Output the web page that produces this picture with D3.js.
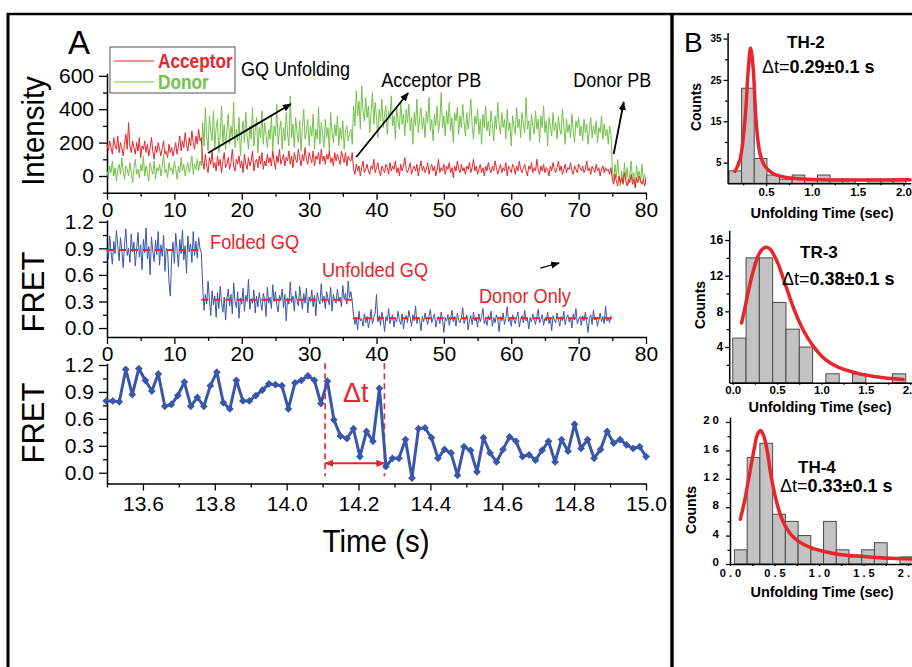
<!DOCTYPE html>
<html>
<head>
<meta charset="utf-8">
<script src="https://cdn.jsdelivr.net/npm/d3@7"></script>
<style>
  body { margin: 0; background: #fff; }
  svg text { font-family: "Liberation Sans", Arial, sans-serif; }
  svg .bold text, svg text.bold { font-weight: bold; }
</style>
</head>
<body>
<svg id="fig" width="912" height="667"></svg>
<script>
// ---- panel A: single-molecule traces, one frame every 0.2 s ----
const frameStep = 0.2;
const acceptor = [
  190,150,210,170,130,230,180,160,240,140, 200,170,120,190,250,160,320,180,140,210,
  170,130,200,150,230,110,180,160,210,140, 190,120,170,230,150,100,180,140,200,160,
  120,170,210,130,150,110,190,140,170,120, 160,200,130,180,240,150,210,170,260,190,
  150,230,180,270,200,160,240,190,280,210, 230,
  90,40,130,60,20,110,70,150,50,80, 30,120,60,100,20,90,140,50,70,110,
  40,80,160,60,30,100,70,120,50,90, 20,130,70,40,110,60,90,150,30,80,
  100,50,120,70,140,40,90,60,130,80, 110,60,150,90,40,120,80,160,70,100,
  130,60,110,90,150,70,120,50,140,100, 80,160,110,60,130,90,170,100,70,140,
  110,80,150,60,120,100,140,70,160,90, 120,70,130,100,150,80,110,60,140,90,
  130,100,70,150,110,80,140,60,120,100, 90,140,
  40,10,70,30,60,0,50,90,20,40, 70,30,10,60,40,100,20,50,80,30,
  0,60,40,20,70,50,10,80,30,60, 40,90,20,50,0,70,30,60,110,40,
  20,50,80,10,40,60,30,70,0,50, 90,30,60,20,40,80,10,50,70,30,
  60,0,40,100,20,50,30,70,10,60, 40,80,20,50,-10,60,30,90,40,20,
  70,30,50,10,60,40,80,20,50,100, 30,60,10,40,70,20,50,0,60,30,
  80,40,20,60,30,90,50,10,40,70, 20,50,30,80,0,60,40,20,70,50,
  10,60,30,90,40,20,50,70,30,0, 60,40,80,20,50,30,100,40,10,60,
  30,70,20,50,40,0,60,30,80,40, 20,50,90,30,60,10,40,70,20,50,
  40,80,30,10,60,40,20,70,50,30, 60,20,40,90,30,50,10,60,40,20,
  70,30,50,0,40,60,20,50,30,40, 10,50,
  -20,-50,10,-30,-60,0,-40,-10,-50,20, -30,-60,-20,-40,10,-50,-20,-70,-10,-40,
  0,-30,-50,-20,-60,-10
];
const donor = [
  30,-10,60,20,90,0,50,-30,40,70, 10,110,30,-20,60,40,0,80,20,-40,
  50,100,10,40,-10,70,30,120,0,60, 20,-30,80,40,10,90,-20,50,30,70,
  0,60,130,20,40,-10,80,30,50,10, 90,40,-20,60,20,110,30,70,0,50,
  80,20,60,120,10,70,40,100,30,90, 60,
  320,180,410,240,150,360,270,210,390,170, 290,340,140,250,420,200,310,160,280,370,
  190,300,230,440,170,280,210,350,120,260, 330,200,380,240,160,300,220,410,180,270,
  350,140,290,230,390,190,320,250,170,280, 220,360,150,300,240,430,190,270,330,160,
  290,210,380,250,180,480,230,310,170,350, 260,200,330,150,290,400,220,270,340,180,
  300,240,370,160,280,220,410,190,320,250, 170,340,230,290,150,380,260,200,310,240,
  360,180,290,220,330,160,270,300,210,250, 280,190,
  420,300,510,360,450,280,540,390,330,470, 350,420,260,380,500,310,440,350,230,400,
  330,460,290,370,420,250,390,340,480,300, 360,220,410,330,280,450,310,370,240,400,
  320,430,270,350,190,380,300,460,260,340, 410,280,350,230,390,320,470,270,340,210,
  370,300,420,260,330,500,290,360,240,390, 310,440,270,350,200,380,330,410,250,360,
  290,430,320,240,380,280,350,460,300,220, 360,310,400,250,340,190,370,290,420,270,
  330,240,390,300,210,360,280,440,310,250, 380,290,340,220,400,270,320,180,360,300,
  250,410,290,340,230,380,310,260,470,280, 330,210,370,300,250,390,280,340,200,360,
  290,420,260,330,180,350,300,240,380,270, 320,220,360,280,250,400,300,190,340,260,
  310,230,370,270,200,330,290,350,240,300, 210,340,260,310,190,280,350,230,300,250,
  330,200,290,260,360,220,310,240,280,190, 300,250,
  40,-30,70,-10,100,0,-60,30,-40,80, -20,50,-50,10,90,-30,20,-70,60,-10,
  30,-40,70,-20,10,-50
];
const fretTrace = [
  0.90,0.78,1.04,0.86,0.72,0.98,0.84,1.10,0.93,0.76, 1.02,0.88,0.68,0.95,1.12,0.82,0.90,0.74,1.06,0.86,
  0.97,0.70,0.89,1.08,0.80,0.94,0.66,1.00,0.85,1.13, 0.78,0.92,0.60,1.03,0.87,0.75,0.99,0.83,1.09,0.71,
  0.94,0.81,1.05,0.64,0.90,0.86,0.52,0.36,0.80,0.97, 0.73,1.07,0.88,0.69,1.00,0.84,1.11,0.77,0.93,0.62,
  1.04,0.86,0.95,0.74,1.09,0.82,0.98,0.79,1.02,0.90, 0.85,
  0.48,0.20,0.38,0.27,0.53,0.31,0.14,0.42,0.26,0.36, 0.12,0.40,0.22,0.47,0.29,0.18,0.35,0.09,0.33,0.44,
  0.25,0.38,0.16,0.51,0.30,0.23,0.41,0.11,0.34,0.27, 0.45,0.19,0.37,0.30,0.55,0.21,0.33,0.28,0.43,0.17,
  0.36,0.24,0.40,0.29,0.20,0.39,0.32,0.13,0.46,0.28, 0.35,0.22,0.49,0.30,0.41,0.26,0.18,0.37,0.31,0.44,
  0.23,0.38,0.08,0.34,0.27,0.52,0.29,0.36,0.19,0.42, 0.31,0.25,0.47,0.33,0.21,0.39,0.28,0.45,0.17,0.35,
  0.30,0.43,0.24,0.37,0.14,0.40,0.32,0.27,0.50,0.29, 0.36,0.22,0.41,0.33,0.26,0.46,0.19,0.38,0.31,0.28,
  0.44,0.30,0.35,0.24,0.48,0.32,0.39,0.27,0.53,0.34, 0.41,0.30,
  0.14,0.04,0.12,-0.02,0.19,0.08,0.11,0.02,0.16,0.06, 0.13,0.00,0.09,0.21,0.05,0.12,0.17,0.38,0.07,0.14,
  0.03,0.18,0.10,-0.04,0.13,0.08,0.22,0.05,0.11,0.15, 0.01,0.12,0.07,0.19,0.09,0.04,0.16,-0.01,0.10,0.14,
  0.06,0.20,0.11,0.02,0.15,0.08,0.25,0.05,0.12,0.09, -0.03,0.13,0.07,0.17,0.10,0.04,0.14,0.21,0.06,0.11,
  0.16,0.01,0.09,0.13,0.05,0.18,0.10,-0.05,0.12,0.08, 0.15,0.03,0.11,0.20,0.07,0.13,0.02,0.17,0.09,0.06,
  0.12,0.23,0.05,0.10,0.15,-0.02,0.09,0.14,0.04,0.18, 0.08,0.11,0.01,0.16,0.07,0.13,0.22,0.05,0.10,0.03,
  0.14,0.09,0.19,0.02,0.12,0.06,0.15,0.10,-0.04,0.13, 0.08,0.17,0.04,0.11,0.24,0.07,0.12,0.02,0.15,0.09,
  0.05,0.13,0.18,0.01,0.10,0.14,0.06,0.20,0.08,0.11, -0.01,0.12,0.07,0.16,0.09,0.04,0.13,0.21,0.06,0.10,
  0.15,0.03,0.11,0.08,0.18,0.05,0.12,-0.03,0.14,0.09, 0.06,0.17,0.10,0.02,0.13,0.08,0.19,0.04,0.11,0.15,
  0.07,0.12,0.00,0.16,0.09,0.22,0.05,0.10,0.13,0.03, 0.14,0.08,0.18,0.06,-0.05,0.11,0.15,0.04,0.20,0.09,
  0.12,0.02,0.10,0.17,0.07,0.13,0.05,0.25,0.08,0.11, 0.06,0.14
];
const levelStart = [0, 14, 36.5];
const levelEnd = [14, 36.5, 75];
const levelValue = [0.88, 0.32, 0.11];

// zoomed FRET trace around the unfolding event (one frame every 18.1 ms)
const zoomStart = 13.498;
const zoomStep = 0.0181;
const zoomFret = [
  0.80,0.80,0.79,1.15,0.87,1.16,1.03,0.91,1.10,0.74,0.76,0.86,1.01,0.74,0.84,0.74,0.97,1.12,0.78,0.71,
  1.03,0.80,0.80,0.86,0.92,0.99,0.98,0.97,0.71,1.00,1.03,1.08,1.03,0.77,1.02,0.59,0.41,0.38,0.49,0.18,
  0.46,0.35,0.94,0.07,0.16,0.16,0.37,-0.06,0.49,0.50,0.39,0.16,0.26,0.22,-0.03,0.29,0.25,0.01,0.39,0.22,
  0.12,0.26,0.40,0.35,0.18,0.20,0.14,0.25,0.35,0.12,0.37,0.24,0.54,0.27,0.37,0.16,0.26,0.46,0.33,0.37,
  0.31,0.27,0.29,0.18
];
const deltaT = [14.107, 14.272];

// axis ticks, panel A
const tTicks = [0, 10, 20, 30, 40, 50, 60, 70, 80];
const tMinor = [5, 15, 25, 35, 45, 55, 65, 75];
const intTicks = [0, 200, 400, 600];
const intMinor = [-100, 100, 300, 500];
const fretTicks = [0, 0.3, 0.6, 0.9, 1.2];
const fretMinor = [0.15, 0.45, 0.75, 1.05];
const zTicks = [13.6, 13.8, 14.0, 14.2, 14.4, 14.6, 14.8, 15.0];
const zMinor = [13.5, 13.7, 13.9, 14.1, 14.3, 14.5, 14.7, 14.9];

// ---- panel B: unfolding time histograms ----
const th2Counts = [3, 23, 6, 2, 1, 2, 1, 2, 1, 1, 0, 1, 1, 1];
const th2Bin = [0.095, 0.138];
const th2FitT = [0.16, 0.215, 0.27, 0.306, 0.331, 0.36, 0.39, 0.433, 0.488, 0.58, 0.724, 0.943, 1.31, 1.7, 2.07];
const th2FitC = [2.85, 5.7, 15.4, 27.6, 32.7, 27.6, 15.4, 7.3, 4.1, 2.3, 1.4, 1.0, 0.8, 0.8, 0.85];

const tr3Counts = [5, 14, 14, 9, 6, 4, 0, 1, 0, 1, 0, 0, 1];
const tr3Bin = [0, 0.15];
const tr3FitT = [0.10, 0.15, 0.20, 0.25, 0.30, 0.35, 0.38, 0.42, 0.50, 0.60, 0.70, 0.80, 0.90, 1.00, 1.10, 1.20, 1.35, 1.50, 1.70, 1.92];
const tr3FitC = [6.7, 9.0, 11.3, 13.2, 14.5, 15.1, 15.2, 15.0, 13.6, 10.8, 8.0, 5.8, 4.2, 3.0, 2.2, 1.7, 1.2, 0.85, 0.55, 0.35];

const th4Counts = [2, 15, 17, 7, 6, 4, 2, 6, 2, 1, 2, 3, 0, 1];
const th4Bin = [0.05, 0.143];
const th4FitT = [0.116, 0.161, 0.217, 0.273, 0.31, 0.345, 0.38, 0.42, 0.46, 0.535, 0.61, 0.72, 0.87, 1.06, 1.25, 1.51, 1.81, 2.09];
const th4FitC = [6.3, 8.7, 12.5, 16.3, 18.3, 18.8, 18.0, 15.8, 12.5, 8.2, 5.6, 3.7, 2.5, 1.76, 1.3, 1.05, 0.8, 0.7];

const red = "#e8252b", green = "#72c247", blue = "#3a56ab";
const svg = d3.select("#fig");

svg.append("defs").append("marker")
  .attr("id", "head").attr("viewBox", "0 0 10 10").attr("refX", 9).attr("refY", 5)
  .attr("markerWidth", 9).attr("markerHeight", 9).attr("markerUnits", "userSpaceOnUse")
  .attr("orient", "auto-start-reverse")
  .append("path").attr("d", "M0,1 L10,5 L0,9 Z").attr("fill", "context-stroke");

// squeeze a text horizontally (the original uses a condensed face)
function squeeze(sel, k) {
  sel.each(function () {
    const w = this.getComputedTextLength();
    d3.select(this).attr("textLength", w * k).attr("lengthAdjust", "spacingAndGlyphs");
  });
  return sel;
}

function axis(gen, scale, major, minor, fmt, at, size, pad, cls) {
  const g = svg.append("g").attr("transform", at).attr("class", cls || "");
  g.call(gen(scale).tickValues(major).tickSizeInner(size[0]).tickSizeOuter(0).tickPadding(pad).tickFormat(fmt));
  svg.append("g").attr("transform", at)
    .call(gen(scale).tickValues(minor).tickSizeInner(size[1]).tickSizeOuter(0).tickFormat(""))
    .select(".domain").remove();
  svg.selectAll(".tick line").attr("stroke", "#000").attr("stroke-width", 1.3);
  svg.selectAll(".domain").attr("stroke", "#000").attr("stroke-width", 1.5);
  g.selectAll("text").attr("fill", "#000").attr("font-family", null);
  return g;
}

// ---------- panel A ----------
const xA = d3.scaleLinear().domain([0, 80]).range([107, 646]);
const yInt = d3.scaleLinear().domain([-100, 615]).range([192.7, 73.3]);
const yF1 = d3.scaleLinear().domain([-0.1, 1.22]).range([336.9, 220]);
const xZ = d3.scaleLinear().domain([13.5, 15.0]).range([107, 646]);
const yF2 = d3.scaleLinear().domain([-0.12, 1.22]).range([483.5, 363.2]);

const fmtA = d3.format("d");
const fmtF = d3.format(".1f");
const tickFs = 21;

// intensity
axis(d3.axisLeft, yInt, intTicks, intMinor, fmtA, "translate(107,0)", [8, 4], 5).selectAll("text").attr("font-size", tickFs);
axis(d3.axisBottom, xA, tTicks, tMinor, fmtA, "translate(0,192.7)", [7, 4], 2).selectAll("text").attr("font-size", tickFs);
const trace = d3.line().x((d, i) => xA(i * frameStep));
svg.append("path").datum(donor).attr("fill", "none").attr("stroke", green).attr("stroke-width", 1)
  .attr("d", trace.y(d => yInt(d)));
svg.append("path").datum(acceptor).attr("fill", "none").attr("stroke", red).attr("stroke-width", 1)
  .attr("d", trace.y(d => yInt(d)));

// arrows (data units)
const arrowsA = [[15.0, 138, 27.3, 431], [37.0, 114, 44.7, 497], [75.2, 132, 76.7, 443]];
svg.selectAll(".arA").data(arrowsA).join("line")
  .attr("x1", d => xA(d[0])).attr("y1", d => yInt(d[1]))
  .attr("x2", d => xA(d[2])).attr("y2", d => yInt(d[3]))
  .attr("stroke", "#000").attr("stroke-width", 1.8).attr("marker-end", "url(#head)");
const notesA = [["GQ Unfolding", 19.9, 599], ["Acceptor PB", 40.7, 533], ["Donor PB", 69.2, 533]];
squeeze(svg.selectAll(".ntA").data(notesA).join("text")
  .attr("x", d => xA(d[1])).attr("y", d => yInt(d[2])).attr("font-size", 20).text(d => d[0]), 0.9);

// legend
svg.append("rect").attr("x", 110).attr("y", 47).attr("width", 125).attr("height", 46)
  .attr("fill", "#fff").attr("stroke", "#555").attr("stroke-width", 1);
[["Acceptor", red, 61], ["Donor", green, 82]].forEach(([name, c, y]) => {
  svg.append("line").attr("x1", 114).attr("x2", 154).attr("y1", y).attr("y2", y).attr("stroke", c).attr("stroke-width", 1.2);
  squeeze(svg.append("text").attr("x", 158).attr("y", y + 7).attr("fill", c).attr("font-size", 21)
    .attr("font-weight", "bold").text(name), 0.82);
});
svg.append("text").attr("x", 68).attr("y", 54).attr("font-size", 33).text("A");
squeeze(svg.append("text").attr("transform", "translate(44,131) rotate(-90)").attr("text-anchor", "middle")
  .attr("font-size", 32).text("Intensity"), 0.92);

// FRET trace
axis(d3.axisLeft, yF1, fretTicks, fretMinor, fmtF, "translate(107,0)", [8, 4], 5).selectAll("text").attr("font-size", tickFs);
axis(d3.axisBottom, xA, tTicks, tMinor, fmtA, "translate(0,336.9)", [7, 4], 2).selectAll("text").attr("font-size", tickFs);
svg.append("path").datum(fretTrace).attr("fill", "none").attr("stroke", blue).attr("stroke-width", 1)
  .attr("d", d3.line().x((d, i) => xA(i * frameStep)).y(d => yF1(d)));
svg.selectAll(".lvl").data(levelValue).join("line")
  .attr("x1", (d, i) => xA(levelStart[i])).attr("x2", (d, i) => xA(levelEnd[i]))
  .attr("y1", d => yF1(d)).attr("y2", d => yF1(d))
  .attr("stroke", red).attr("stroke-width", 2).attr("stroke-dasharray", "7,5");
const notesF = [["Folded GQ", 15.3, 0.89], ["Unfolded GQ", 31.9, 0.575], ["Donor Only", 55.2, 0.28]];
squeeze(svg.selectAll(".ntF").data(notesF).join("text")
  .attr("x", d => xA(d[1])).attr("y", d => yF1(d[2])).attr("fill", red).attr("font-size", 20).text(d => d[0]), 0.91);
svg.append("line").attr("x1", xA(64.3)).attr("y1", yF1(0.677)).attr("x2", xA(67.1)).attr("y2", yF1(0.734))
  .attr("stroke", "#000").attr("stroke-width", 1.2).attr("marker-end", "url(#head)");
svg.append("text").attr("transform", "translate(44,292) rotate(-90)").attr("text-anchor", "middle")
  .attr("font-size", 31).text("FRET");

// zoomed FRET
axis(d3.axisLeft, yF2, fretTicks, fretMinor, fmtF, "translate(107,0)", [8, 4], 5).selectAll("text").attr("font-size", tickFs);
axis(d3.axisBottom, xZ, zTicks, zMinor, fmtF, "translate(0,483.5)", [7, 4], 6).selectAll("text").attr("font-size", tickFs);
svg.selectAll(".dt").data(deltaT).join("line")
  .attr("x1", d => xZ(d)).attr("x2", d => xZ(d)).attr("y1", yF2(1.22)).attr("y2", yF2(-0.04))
  .attr("stroke", red).attr("stroke-width", 1.6).attr("stroke-dasharray", "6,4");
svg.append("line").attr("x1", xZ(deltaT[0])).attr("x2", xZ(deltaT[1])).attr("y1", yF2(0.105)).attr("y2", yF2(0.105))
  .attr("stroke", red).attr("stroke-width", 2).attr("marker-start", "url(#head)").attr("marker-end", "url(#head)");
svg.append("text").attr("x", xZ(14.157)).attr("y", yF2(0.79)).attr("fill", red).attr("font-size", 27).text("Δt");
svg.append("path").datum(zoomFret).attr("fill", "none").attr("stroke", blue).attr("stroke-width", 3)
  .attr("stroke-linejoin", "round")
  .attr("d", d3.line().x((d, i) => xZ(zoomStart + i * zoomStep)).y(d => yF2(d)));
svg.selectAll(".dm").data(zoomFret).join("path")
  .attr("d", d3.symbol(d3.symbolSquare, 30))
  .attr("transform", (d, i) => `translate(${xZ(zoomStart + i * zoomStep)},${yF2(d)}) rotate(45)`)
  .attr("fill", blue);
svg.append("text").attr("transform", "translate(44,423) rotate(-90)").attr("text-anchor", "middle")
  .attr("font-size", 31).text("FRET");
squeeze(svg.append("text").attr("x", 376).attr("y", 552).attr("text-anchor", "middle").attr("font-size", 31).text("Time (s)"), 0.95);

// ---------- panel B ----------
function hist(o) {
  const x = d3.scaleLinear().domain(o.xd).range(o.xr);
  const y = d3.scaleLinear().domain(o.yd).range(o.yr);
  svg.selectAll(null).data(o.counts).join("rect")
    .attr("x", (d, i) => x(o.bin[0] + i * o.bin[1]))
    .attr("width", x(o.bin[1]) - x(0))
    .attr("y", d => y(d)).attr("height", d => y(0) - y(d))
    .attr("fill", "#c3c3c3").attr("stroke", "#4a4a4a").attr("stroke-width", 1);
  const gy = axis(d3.axisLeft, y, o.yt, o.ym, d3.format("d"), `translate(${o.xr[0]},0)`, [4, 2.5], o.ypad, "bold");
  const gx = axis(d3.axisBottom, x, o.xt, o.xm, d3.format(".1f"), `translate(0,${o.yr[0]})`, [o.xtick, 2], o.xpad, "bold");
  gy.selectAll("text").attr("font-size", o.yfs).attr("letter-spacing", o.ls).attr("dy", o.ydy);
  gx.selectAll("text").attr("font-size", o.xfs).attr("letter-spacing", o.ls).attr("dx", o.ls / 2);
  svg.append("path").datum(o.fitT)
    .attr("fill", "none").attr("stroke", red).attr("stroke-width", 3.5).attr("stroke-linecap", "round")
    .attr("d", d3.line().curve(d3.curveCatmullRom).x(d => x(d)).y((d, i) => y(o.fitC[i])));
  svg.append("text").attr("class", "bold").attr("x", o.title[1]).attr("y", o.title[2])
    .attr("font-size", 17).text(o.title[0]);
  const dt = svg.append("text").attr("x", o.dt[1]).attr("y", o.dt[2]).attr("font-size", 18);
  dt.append("tspan").text("Δt=");
  dt.append("tspan").attr("font-weight", "bold").text(o.dt[0]);
  svg.append("text").attr("class", "bold").attr("text-anchor", "middle")
    .attr("transform", `translate(${o.cy[0]},${o.cy[1]}) rotate(-90)`).attr("font-size", 14).text("Counts");
  svg.append("text").attr("class", "bold").attr("text-anchor", "middle")
    .attr("x", o.cx[0]).attr("y", o.cx[1]).attr("font-size", 14.5).text("Unfolding Time (sec)");
}

hist({
  counts: th2Counts, bin: th2Bin, fitT: th2FitT, fitC: th2FitC,
  xd: [0.08, 2.08], xr: [727.6, 910.8], yd: [0, 36.5], yr: [183.3, 32.4],
  xt: [0.5, 1.0, 1.5, 2.0], xm: [0.25, 0.75, 1.25, 1.75], yt: [5, 15, 25, 35], ym: [10, 20, 30],
  xtick: 3, xpad: 2, ypad: 2, ydy: "0.32em", xfs: 11.5, yfs: 10, ls: 0,
  title: ["TH-2", 787, 48], dt: ["0.29±0.1 s", 762, 73], cy: [701, 107], cx: [822, 218]
});
hist({
  counts: tr3Counts, bin: tr3Bin, fitT: tr3FitT, fitC: tr3FitC,
  xd: [-0.04, 2.05], xr: [729.2, 914.6], yd: [0, 17.1], yr: [382.7, 230.2],
  xt: [0, 0.5, 1.0, 1.5, 2.0], xm: [0.25, 0.75, 1.25, 1.75], yt: [4, 8, 12, 16], ym: [2, 6, 10, 14],
  xtick: 2, xpad: 1, ypad: 2, ydy: "0.32em", xfs: 11.5, yfs: 12, ls: 0,
  title: ["TR-3", 800, 258], dt: ["0.38±0.1 s", 782, 285], cy: [705, 305], cx: [820, 412]
});
hist({
  counts: th4Counts, bin: th4Bin, fitT: th4FitT, fitC: th4FitC,
  xd: [0, 2.1], xr: [730, 916.9], yd: [0, 20.7], yr: [564, 417],
  xt: [0, 0.5, 1.0, 1.5, 2.0], xm: [0.25, 0.75, 1.25, 1.75], yt: [0, 4, 8, 12, 16, 20], ym: [2, 6, 10, 14, 18],
  xtick: 2, xpad: 3.5, ypad: 4, ydy: "0.15em", xfs: 11, yfs: 11.5, ls: 3,
  title: ["TH-4", 798, 473], dt: ["0.33±0.1 s", 780, 492], cy: [696, 510], cx: [822, 597]
});
svg.append("text").attr("x", 684).attr("y", 52).attr("font-size", 28).text("B");

// frame
const frame = svg.append("g").attr("stroke", "#000");
frame.append("line").attr("x1", 7).attr("x2", 912).attr("y1", 14).attr("y2", 14).attr("stroke-width", 2.5);
frame.append("line").attr("x1", 8).attr("x2", 8).attr("y1", 13).attr("y2", 667).attr("stroke-width", 3);
frame.append("line").attr("x1", 672).attr("x2", 672).attr("y1", 13).attr("y2", 667).attr("stroke-width", 3.5);
</script>
</body>
</html>
